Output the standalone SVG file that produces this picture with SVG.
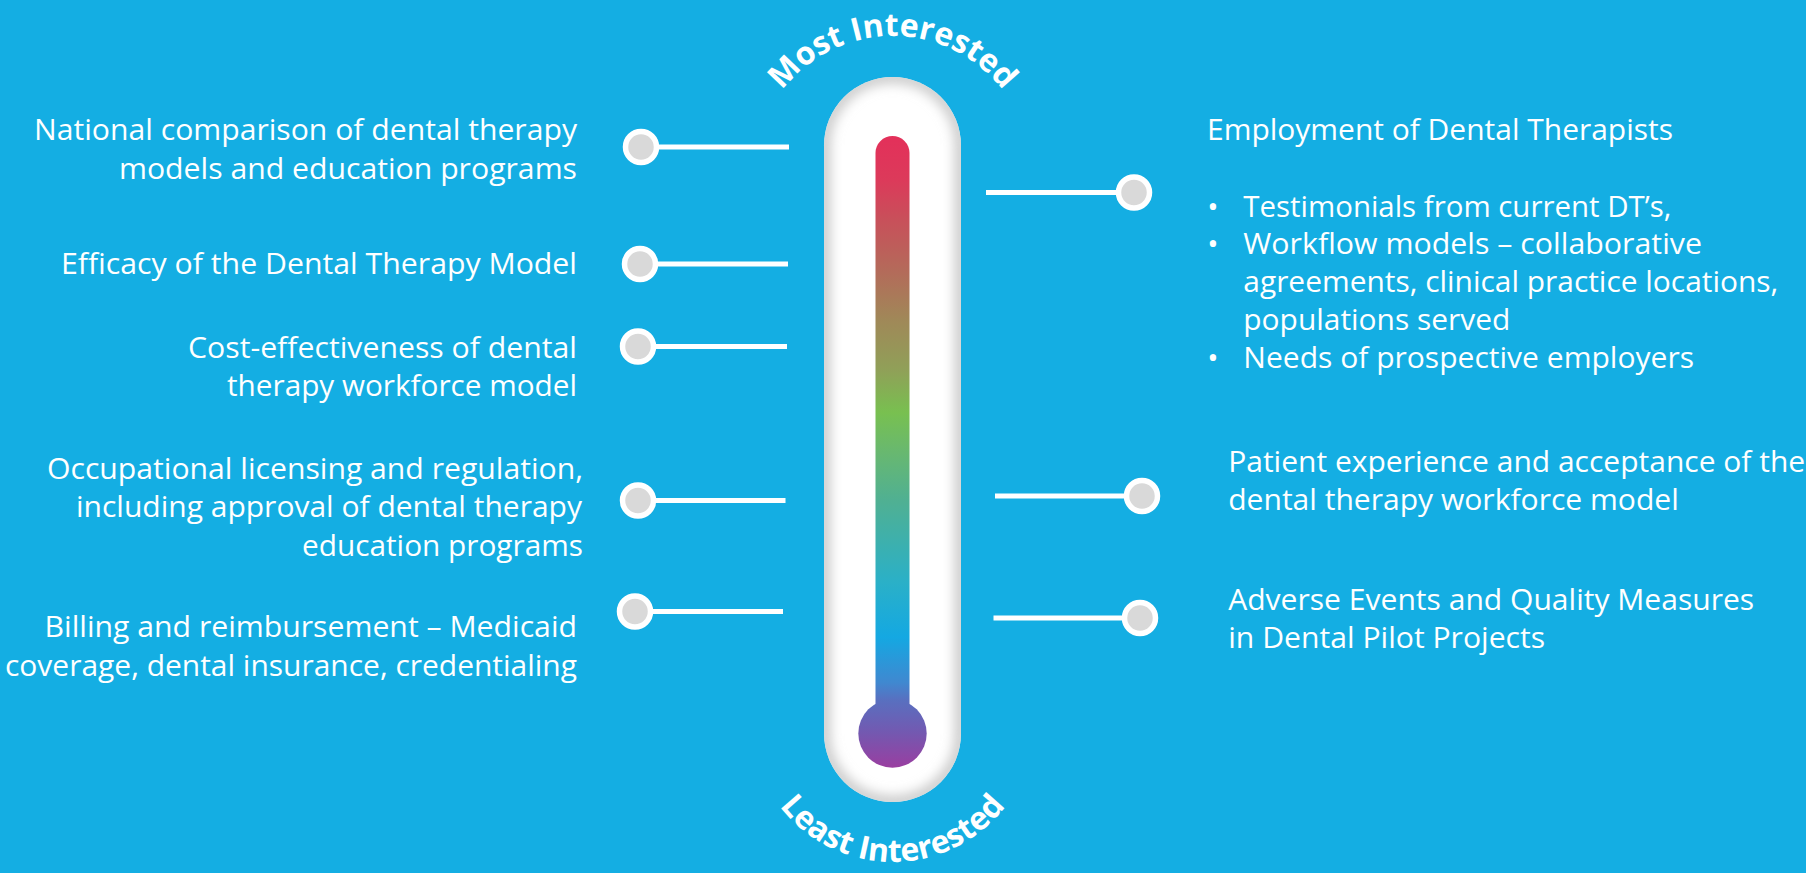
<svg xmlns="http://www.w3.org/2000/svg" width="1806" height="873" viewBox="0 0 1806 873">
  <defs>
    <style>
      .txt { font-family: "Open Sans", "Noto Sans", "DejaVu Sans", sans-serif; font-size: 30px; fill: #ffffff; }
      .lt { text-anchor: end; }
      .bul { font-family: "Open Sans", "Noto Sans", "DejaVu Sans", sans-serif; font-size: 30px; fill: #ffffff; text-anchor: middle; }
      .arc { font-family: "Open Sans", "Noto Sans", "DejaVu Sans", sans-serif; font-size: 32px; font-weight: 700; fill: #ffffff; }
      .lead { stroke: #ffffff; stroke-width: 5; fill: none; }
      .dot { fill: #d9d9d9; stroke: #ffffff; stroke-width: 5.5; }
    </style>
    <!-- mercury colour ramp, hot at the top, cool at the bulb -->
    <linearGradient id="mercury" gradientUnits="userSpaceOnUse" x1="0" y1="136" x2="0" y2="768">
      <stop offset="0" stop-color="#e3305a"/>
      <stop offset="0.07" stop-color="#dc3a5a"/>
      <stop offset="0.133" stop-color="#c8505a"/>
      <stop offset="0.212" stop-color="#b46a5a"/>
      <stop offset="0.291" stop-color="#a08858"/>
      <stop offset="0.37" stop-color="#90a058"/>
      <stop offset="0.438" stop-color="#78c050"/>
      <stop offset="0.501" stop-color="#68b870"/>
      <stop offset="0.576" stop-color="#50b092"/>
      <stop offset="0.707" stop-color="#2ab0c8"/>
      <stop offset="0.793" stop-color="#14a8e2"/>
      <stop offset="0.865" stop-color="#4088d0"/>
      <stop offset="0.892" stop-color="#5870c0"/>
      <stop offset="0.945" stop-color="#7458b0"/>
      <stop offset="1" stop-color="#9a3ea0"/>
    </linearGradient>
    <clipPath id="glassClip">
      <rect x="824" y="77" width="137" height="725" rx="68.5"/>
    </clipPath>
    <filter id="soft" x="-20%" y="-20%" width="140%" height="140%">
      <feGaussianBlur stdDeviation="6"/>
    </filter>
    <path id="arcTop" d="M 753.5 175 A 139 139 0 0 1 1031.5 175"/>
    <path id="arcBottom" d="M 750.5 720 A 142 142 0 0 0 1034.5 720"/>
  </defs>

  <rect x="0" y="0" width="1806" height="873" fill="#14aee3"/>

  <!-- thermometer body -->
  <g id="thermometer">
    <rect x="824" y="77" width="137" height="725" rx="68.5" fill="#ffffff"/>
    <g clip-path="url(#glassClip)">
      <rect x="824" y="77" width="137" height="725" rx="68.5" fill="none" stroke="#cacaca" stroke-width="13" filter="url(#soft)"/>
    </g>
    <rect x="875.5" y="136" width="34" height="600" rx="17" fill="url(#mercury)"/>
    <circle cx="892.5" cy="733.5" r="34.2" fill="url(#mercury)"/>
  </g>

  <g id="label-top">
    <text class="arc"><textPath href="#arcTop" startOffset="50%" text-anchor="middle">Most Interested</textPath></text>
  </g>
  <g id="label-bottom">
    <text class="arc" font-size="33"><textPath href="#arcBottom" startOffset="50%" text-anchor="middle">Least Interested</textPath></text>
  </g>

  <!-- leader lines with end dots -->
  <g id="connectors">
    <line class="lead" x1="641" y1="147" x2="789" y2="147"/>
    <line class="lead" x1="640" y1="264" x2="788" y2="264"/>
    <line class="lead" x1="638" y1="346.5" x2="787" y2="346.5"/>
    <line class="lead" x1="638" y1="500.5" x2="785.5" y2="500.5"/>
    <line class="lead" x1="635" y1="611.5" x2="783" y2="611.5"/>
    <line class="lead" x1="986" y1="192.5" x2="1134" y2="192.5"/>
    <line class="lead" x1="995" y1="496" x2="1142" y2="496"/>
    <line class="lead" x1="993.5" y1="618" x2="1140" y2="618"/>
    <circle class="dot" cx="641" cy="147" r="15.5"/>
    <circle class="dot" cx="640" cy="264" r="15.5"/>
    <circle class="dot" cx="638" cy="346.5" r="15.5"/>
    <circle class="dot" cx="638" cy="500.5" r="15.5"/>
    <circle class="dot" cx="635" cy="611.5" r="15.5"/>
    <circle class="dot" cx="1134" cy="192.5" r="15.5"/>
    <circle class="dot" cx="1142" cy="496" r="15.5"/>
    <circle class="dot" cx="1140" cy="618" r="15.5"/>
  </g>

  <g id="item-national">
    <text class="txt lt" x="577" y="140" textLength="543" lengthAdjust="spacingAndGlyphs">National comparison of dental therapy</text>
    <text class="txt lt" x="577" y="178.5" textLength="458" lengthAdjust="spacingAndGlyphs">models and education programs</text>
  </g>
  <g id="item-efficacy">
    <text class="txt lt" x="577" y="274.3" textLength="516" lengthAdjust="spacingAndGlyphs">Efficacy of the Dental Therapy Model</text>
  </g>
  <g id="item-cost">
    <text class="txt lt" x="577" y="357.5" textLength="389" lengthAdjust="spacingAndGlyphs">Cost-effectiveness of dental</text>
    <text class="txt lt" x="577" y="396" textLength="350" lengthAdjust="spacingAndGlyphs">therapy workforce model</text>
  </g>
  <g id="item-licensing">
    <text class="txt lt" x="583" y="479" textLength="536" lengthAdjust="spacingAndGlyphs">Occupational licensing and regulation,</text>
    <text class="txt lt" x="582" y="517.3" textLength="506" lengthAdjust="spacingAndGlyphs">including approval of dental therapy</text>
    <text class="txt lt" x="583" y="555.5" textLength="281" lengthAdjust="spacingAndGlyphs">education programs</text>
  </g>
  <g id="item-billing">
    <text class="txt lt" x="577" y="637.3" textLength="532.5" lengthAdjust="spacingAndGlyphs">Billing and reimbursement – Medicaid</text>
    <text class="txt lt" x="577" y="675.5" textLength="572" lengthAdjust="spacingAndGlyphs">coverage, dental insurance, credentialing</text>
  </g>

  <g id="item-employment">
    <text class="txt" x="1207" y="140" textLength="466" lengthAdjust="spacingAndGlyphs">Employment of Dental Therapists</text>
    <text class="bul" x="1213" y="216.7">•</text>
    <text class="txt" x="1243.3" y="216.7" textLength="428" lengthAdjust="spacingAndGlyphs">Testimonials from current DT’s,</text>
    <text class="bul" x="1213" y="254.3">•</text>
    <text class="txt" x="1243.3" y="254.3" textLength="458.7" lengthAdjust="spacingAndGlyphs">Workflow models – collaborative</text>
    <text class="txt" x="1243.3" y="292.3" textLength="535" lengthAdjust="spacingAndGlyphs">agreements, clinical practice locations,</text>
    <text class="txt" x="1243.3" y="330.3" textLength="267" lengthAdjust="spacingAndGlyphs">populations served</text>
    <text class="bul" x="1213" y="368.3">•</text>
    <text class="txt" x="1243.3" y="368.3" textLength="450.7" lengthAdjust="spacingAndGlyphs">Needs of prospective employers</text>
  </g>
  <g id="item-patient">
    <text class="txt" x="1228.2" y="471.7" textLength="577" lengthAdjust="spacingAndGlyphs">Patient experience and acceptance of the</text>
    <text class="txt" x="1228.2" y="510" textLength="450.6" lengthAdjust="spacingAndGlyphs">dental therapy workforce model</text>
  </g>
  <g id="item-adverse">
    <text class="txt" x="1228.2" y="610" textLength="526" lengthAdjust="spacingAndGlyphs">Adverse Events and Quality Measures</text>
    <text class="txt" x="1228.2" y="648.3" textLength="317" lengthAdjust="spacingAndGlyphs">in Dental Pilot Projects</text>
  </g>
</svg>
